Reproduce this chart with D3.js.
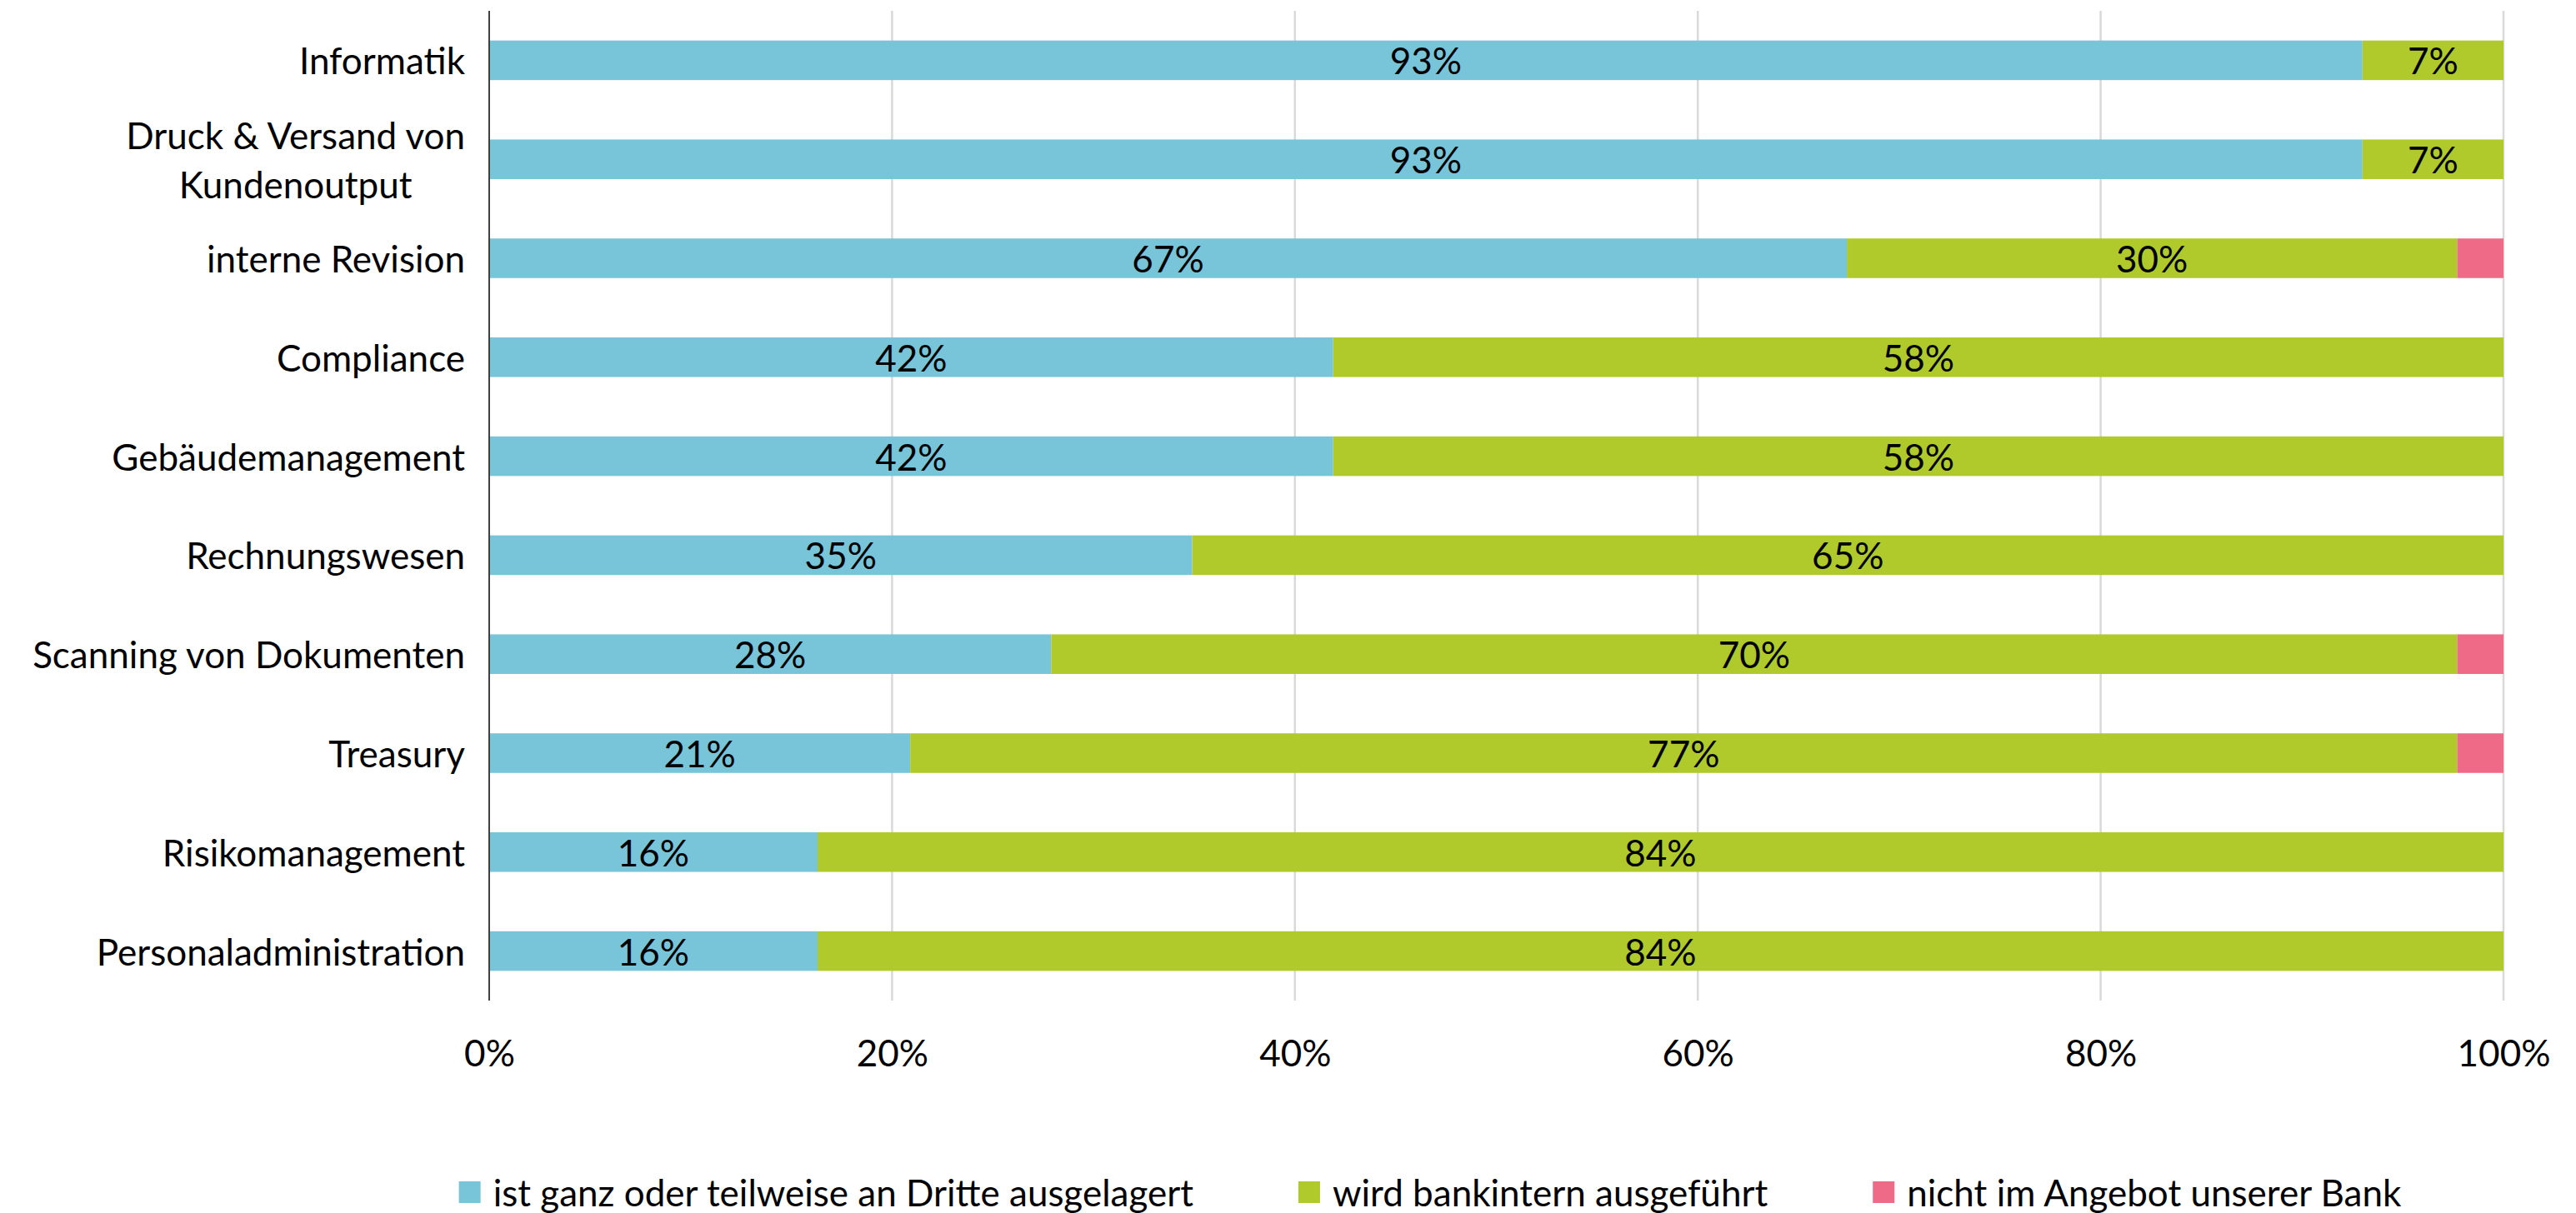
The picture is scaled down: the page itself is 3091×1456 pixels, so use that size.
<!DOCTYPE html>
<html>
<head>
<meta charset="utf-8">
<script src="https://cdn.jsdelivr.net/npm/d3@7"></script>
<style>
  html, body { margin: 0; padding: 0; background: #ffffff; }
  svg { display: block; }
  text { font-family: Lato, "Open Sans", "Liberation Sans", sans-serif; fill: #000000; }
</style>
</head>
<body>
<svg id="chart" width="3091" height="1456"></svg>
<script>
// Functions, top to bottom; "\n" splits a label onto two lines
const categories = [
  "Informatik",
  "Druck & Versand von\nKundenoutput",
  "interne Revision",
  "Compliance",
  "Gebäudemanagement",
  "Rechnungswesen",
  "Scanning von Dokumenten",
  "Treasury",
  "Risikomanagement",
  "Personaladministration"
];

// Share of banks per answer, in percent
const outsourced   = [93.0, 93.0, 67.4, 41.9, 41.9, 34.9, 27.9, 20.9, 16.3, 16.3];
const inHouse      = [ 7.0,  7.0, 30.3, 58.1, 58.1, 65.1, 69.8, 76.8, 83.7, 83.7];
const notOffered   = [ 0.0,  0.0,  2.3,  0.0,  0.0,  0.0,  2.3,  2.3,  0.0,  0.0];

const seriesNames = [
  "ist ganz oder teilweise an Dritte ausgelagert",
  "wird bankintern ausgeführt",
  "nicht im Angebot unserer Bank"
];
const seriesColors = ["#78c4d8", "#afca2a", "#ef6a87"];

const xTicks = [0, 20, 40, 60, 80, 100];

// ---- layout ----
const FONT = 44;
const plot = { left: 587, right: 3004, top: 13, bottom: 1201 };

const svg = d3.select("#chart");

const x = d3.scaleLinear().domain([0, 100]).range([plot.left, plot.right]);
const y = d3.scaleBand()
  .domain(categories)
  .range([plot.top, plot.bottom])
  .paddingInner(0.6)
  .paddingOuter(0.3);

const rows = categories.map((c, i) => ({
  category: c,
  values: [outsourced[i], inHouse[i], notOffered[i]]
}));

// vertical gridlines
svg.append("g")
  .selectAll("line")
  .data(xTicks.filter(t => t > 0))
  .join("line")
  .attr("x1", d => x(d)).attr("x2", d => x(d))
  .attr("y1", plot.top).attr("y2", plot.bottom)
  .attr("stroke", "#d9d9d9")
  .attr("stroke-width", 2.5);

// stacked segments
const segments = rows.flatMap(r => {
  let acc = 0;
  return r.values.map((v, k) => {
    const seg = { category: r.category, k, v, x0: acc, x1: acc + v };
    acc += v;
    return seg;
  });
}).filter(s => s.v > 0);

svg.append("g")
  .selectAll("rect")
  .data(segments)
  .join("rect")
  .attr("x", d => x(d.x0))
  .attr("width", d => x(d.x1) - x(d.x0))
  .attr("y", d => y(d.category))
  .attr("height", y.bandwidth())
  .attr("fill", d => seriesColors[d.k]);

// value labels inside the segments
const pct = v => d3.format(".0f")(v) + "%";
svg.append("g")
  .selectAll("text")
  .data(segments.filter(s => s.v >= 5))
  .join("text")
  .attr("x", d => (x(d.x0) + x(d.x1)) / 2)
  .attr("y", d => y(d.category) + y.bandwidth() / 2)
  .attr("text-anchor", "middle")
  .attr("dominant-baseline", "central")
  .attr("font-size", FONT)
  .text(d => pct(d.v));

// category axis line
svg.append("line")
  .attr("x1", plot.left).attr("x2", plot.left)
  .attr("y1", plot.top).attr("y2", plot.bottom)
  .attr("stroke", "#404040")
  .attr("stroke-width", 2);

// category labels, right-aligned block; multi-line labels centred within the block
const labelRight = 558;
const lineGap = 59;
const catG = svg.append("g");
categories.forEach(c => {
  const lines = c.split("\n");
  const cy = y(c) + y.bandwidth() / 2;
  const t = catG.append("text")
    .attr("font-size", FONT)
    .attr("dominant-baseline", "central");
  if (lines.length === 1) {
    t.attr("x", labelRight).attr("y", cy).attr("text-anchor", "end").text(c);
  } else {
    t.attr("text-anchor", "middle");
    const spans = lines.map((ln, j) => t.append("tspan")
      .attr("y", cy + (j - (lines.length - 1) / 2) * lineGap)
      .text(ln));
    const w = d3.max(spans, s => s.node().getComputedTextLength());
    spans.forEach(s => s.attr("x", labelRight - w / 2));
  }
});

// percentage axis
const xAxis = d3.axisBottom(x)
  .tickValues(xTicks)
  .tickSize(0)
  .tickPadding(0)
  .tickFormat(d => d + "%");
const axG = svg.append("g")
  .attr("transform", `translate(0, ${1263})`)
  .call(xAxis);
axG.select(".domain").remove();
axG.selectAll("text")
  .attr("font-size", FONT)
  .attr("font-family", null)
  .attr("dy", null)
  .attr("y", 0)
  .attr("dominant-baseline", "central");

// legend, laid out in one row
const legendCenter = 1716;
const legendY = 1431;
const sq = 26, sqGap = 15, itemGap = 126;
const legend = svg.append("g");
const items = seriesNames.map((name, k) => {
  const g = legend.append("g");
  g.append("rect")
    .attr("width", sq).attr("height", sq)
    .attr("y", legendY - sq / 2)
    .attr("fill", seriesColors[k]);
  const t = g.append("text")
    .attr("x", sq + sqGap)
    .attr("y", legendY)
    .attr("dominant-baseline", "central")
    .attr("font-size", FONT)
    .text(name);
  return { g, w: sq + sqGap + t.node().getComputedTextLength() };
});
const total = d3.sum(items, d => d.w) + itemGap * (items.length - 1);
let cx = legendCenter - total / 2;
items.forEach(it => {
  it.g.attr("transform", `translate(${cx}, 0)`);
  cx += it.w + itemGap;
});
</script>
</body>
</html>
